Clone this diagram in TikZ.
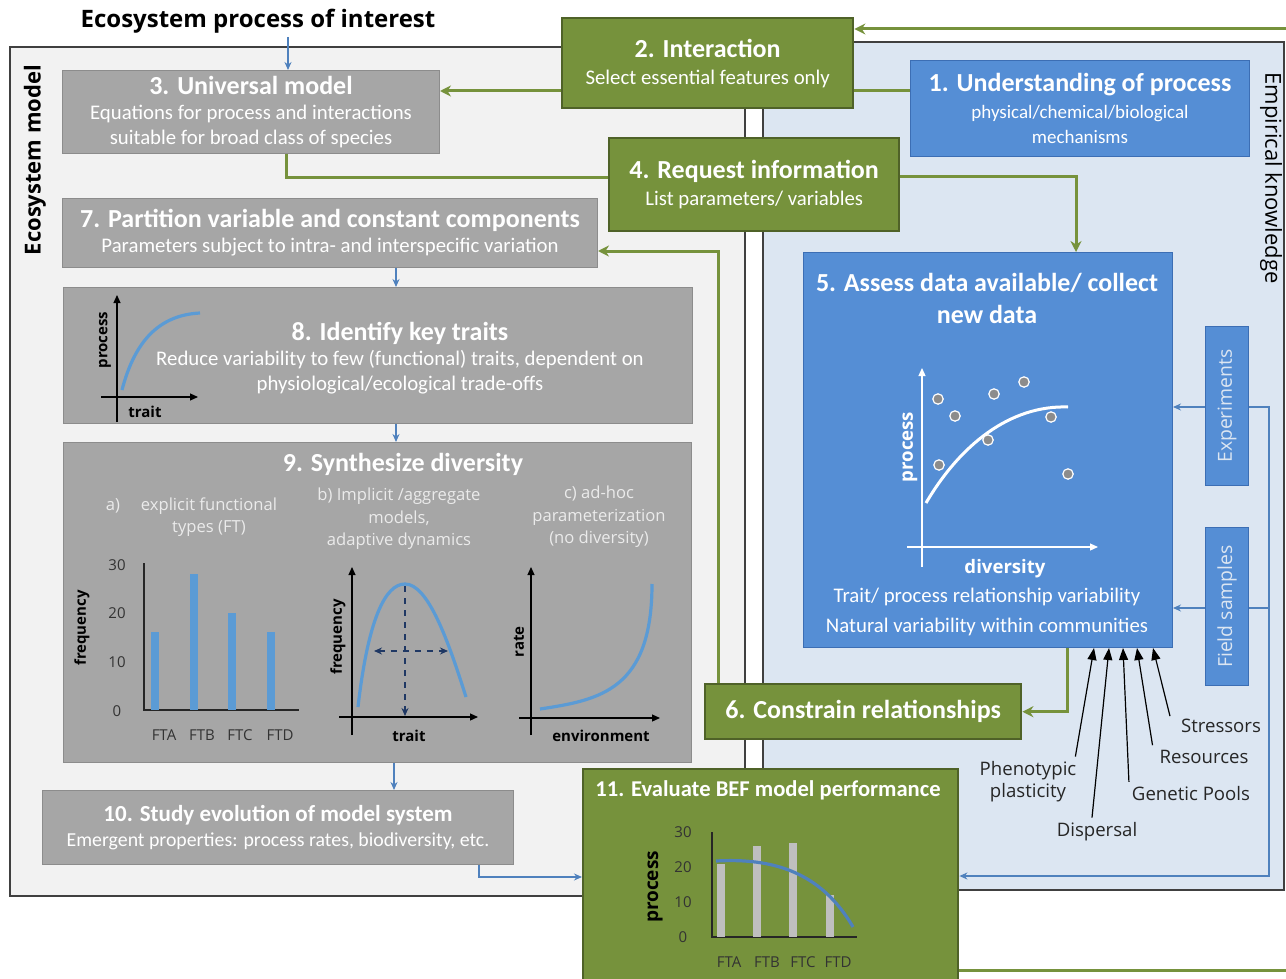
\documentclass[tikz,border=0pt]{standalone}
\usepackage{fontspec}
\setmainfont{Carlito}
\newfontfamily\labelfont{Open Sans}
\usepackage{tikz}
\usetikzlibrary{positioning, calc, arrows.meta}
\usepackage{xcolor}

\definecolor{stepgreen}{HTML}{76923C}
\definecolor{stepgreenline}{HTML}{4F6228}
\definecolor{stepblue}{HTML}{558ED5}
\definecolor{stepblueline}{HTML}{3C6EB4}
\definecolor{stepgrey}{HTML}{A6A6A6}
\definecolor{stepgreyline}{HTML}{8C8C8C}
\definecolor{modelpane}{HTML}{F2F2F2}
\definecolor{datapane}{HTML}{DCE6F2}
\definecolor{linkblue}{HTML}{4F81BD}
\definecolor{curveblue}{HTML}{5B9BD5}
\definecolor{bargrey}{HTML}{BFBFBF}
\definecolor{dotgrey}{HTML}{8C8C8C}
\definecolor{navy}{HTML}{1F3864}
\newcommand{\StepHead}[1]{{\fontsize{13}{15.5}\selectfont\bfseries #1}}
\newcommand{\StepText}{\fontsize{10.4}{12.5}\selectfont}

\begin{document}
\begin{tikzpicture}[x=0.5pt, y=-0.5pt,
    boxsize/.style 2 args={minimum width={#1*0.5pt}, minimum height={#2*0.5pt}, anchor=north west},
    greenbox/.style={draw=stepgreenline, line width=1.2pt, fill=stepgreen, text=white, inner sep=0pt, align=center, font=\StepText},
    bluebox/.style={draw=stepblueline, line width=0.5pt, fill=stepblue, text=white, inner sep=0pt, align=center, font=\StepText},
    greybox/.style={draw=stepgreyline, line width=0.5pt, fill=stepgrey, text=white, inner sep=0pt, align=center, font=\StepText},
    pane/.style={draw=black!75, line width=0.8pt},
    greenlink/.style={draw=stepgreen, line width=1.5pt},
    greenarrow/.style={greenlink, -{Stealth[length=5.5pt, width=5.5pt]}},
    bluelink/.style={draw=linkblue, line width=0.6pt},
    bluearrow/.style={bluelink, -{Stealth[length=4pt, width=3.5pt]}},
    axis/.style={line width=0.6pt, -{Triangle[length=4pt, width=3.5pt]}},
    factor/.style={font=\labelfont\fontsize{9.3}{11}\selectfont, align=center, text=black!85},
    factorarrow/.style={line width=0.6pt, -{Triangle[length=6pt, width=4.5pt]}},
    chartlabel/.style={font=\labelfont\bfseries\fontsize{7.5}{9}\selectfont, inner sep=1pt},
    ticklabel/.style={font=\labelfont\fontsize{7.5}{9}\selectfont, text=black!80, inner sep=1pt},
    pictext/.style={font=\labelfont\fontsize{8.3}{11.2}\selectfont, text=white!92!black, align=center},
    curve/.style={draw=curveblue, line width=1.6pt},
]
\useasboundingbox (0,0) rectangle (1286,979);
\clip (0,0) rectangle (1286,979);

% Panels
\draw[pane, fill=modelpane] (10,47) rectangle (745,896);
\draw[pane, fill=datapane] (763,42) rectangle (1284,890);
\node[rotate=90, font=\labelfont\bfseries\fontsize{11}{13}\selectfont] (modellabel) at (35,160) {Ecosystem model};
\node[rotate=-90, font=\labelfont\fontsize{11}{13}\selectfont] (empirlabel) at (1271,178) {Empirical knowledge};
\node[font=\labelfont\bfseries\fontsize{12}{14}\selectfont] (interest) at (258,21) {Ecosystem process of interest};

% Steps
\node[bluebox, boxsize={339}{96}] (understanding) at (910,60) {\StepHead{1. Understanding of process}\\[1pt]\fontsize{9.5}{11.5}\selectfont physical/chemical/biological\\\fontsize{9.5}{11.5}\selectfont mechanisms};
\node[greenbox, boxsize={291}{90}] (interaction) at (561,17) {\StepHead{2. Interaction}\\[1pt]Select essential features only};
\node[greybox, boxsize={377}{83}] (universal) at (62,70) {\StepHead{3. Universal model}\\Equations for process and interactions\\suitable for broad class of species};
\node[greenbox, boxsize={290}{93}] (request) at (608,137) {\StepHead{4. Request information}\\[1pt]List parameters/ variables};
\node[bluebox, boxsize={369}{395}] (assess) at (803,252) {};
\node[greenbox, boxsize={316}{55}] (constrain) at (704,683) {\StepHead{6. Constrain relationships}};
\node[greybox, boxsize={535}{69}] (partition) at (62,198) {\StepHead{7. Partition variable and constant components}\\Parameters subject to intra- and interspecific variation};
\node[greybox, boxsize={629}{136}] (traits) at (63,287) {};
\node[greybox, boxsize={628}{320}] (synth) at (63,442) {};
\node[greybox, boxsize={471}{74}] (evolution) at (42,790) {{\fontsize{11.5}{14}\selectfont\bfseries 10. Study evolution of model system}\\\fontsize{9.9}{12}\selectfont Emergent properties: process rates, biodiversity, etc.};
\node[greenbox, boxsize={375}{230}] (evaluate) at (582,768) {};
\node[bluebox, boxsize={43}{159}, label={[rotate=90, text=datapane, font=\labelfont\fontsize{9.7}{11}\selectfont]center:Experiments}] (experiments) at (1205,326) {};
\node[bluebox, boxsize={43}{158}, label={[rotate=90, text=datapane, font=\labelfont\fontsize{9.7}{11}\selectfont]center:Field samples}] (fieldsamples) at (1205,527) {};

% Step 5: data
\node[text=white, align=center, font=\fontsize{13}{16}\selectfont\bfseries] (assesshead) at (987,298) {5. Assess data available/ collect\\new data};
\draw[axis, white] (907,547) -- (1098,547);
\draw[axis, white] (922,567) -- (922,368);
\draw[white, line width=1.5pt] (926,503) .. controls (960,445) and (1010,405) .. (1068,407);
\foreach \px/\py [count=\i] in {938/399, 955/416, 994/394, 1024/382, 988/440, 939/465, 1051/417, 1068/474}
    \filldraw[fill=dotgrey, draw=white, line width=0.6pt] (\px,\py) circle[radius=2.6pt];
\node[chartlabel, text=white, rotate=90, font=\labelfont\bfseries\fontsize{9.3}{11}\selectfont] (dataproc) at (910,447) {process};
\node[chartlabel, text=white, font=\labelfont\bfseries\fontsize{9.3}{11}\selectfont] (datadiv) at (1005,569) {diversity};
\node[text=white, align=center, font=\fontsize{10.4}{15}\selectfont] (assesstext) at (987,612) {Trait/ process relationship variability\\Natural variability within communities};

% Step 8: traits
\node[text=white, align=center, font=\StepText] (traitstext) at (400,358) {\StepHead{8. Identify key traits}\\Reduce variability to few (functional) traits, dependent on\\physiological/ecological trade-offs};
\draw[axis] (101,397) -- (198,397);
\draw[axis] (117,422) -- (117,295);
\draw[curve] (122,390) .. controls (135,340) and (160,315) .. (200,313);
\node[chartlabel, rotate=90] (traitproc) at (105,340) {process};
\node[chartlabel] (traittrait) at (145,412) {trait};

% Step 9: diversity
\node[text=white] (synthhead) at (403,464) {\StepHead{9. Synthesize diversity}};
\node[pictext] (tagA) at (113,506) {a)};
\node[pictext] (typeA) at (209,517) {explicit functional\\types (FT)};
\node[pictext] (typeB) at (399,519) {b) Implicit /aggregate\\models,\\adaptive dynamics};
\node[pictext] (typeC) at (599,517) {c) ad-hoc\\parameterization\\(no diversity)};
% a) bars
\draw[black!85, line width=0.6pt] (144,563) |- (299,710);
\foreach \bx/\bv in {155/16, 194/28, 232/20, 271/16}
    \fill[curveblue] (\bx-4,710) rectangle ({\bx+4},{710-4.87*\bv});
\foreach \tv in {0,10,20,30}
    \node[ticklabel] (freqtick\tv) at (117,{711-4.87*\tv}) {\tv};
\foreach \lx/\lt in {164/FTA, 202/FTB, 240/FTC, 280/FTD}
    \node[ticklabel] (freqft\lt) at (\lx,735) {\lt};
\node[chartlabel, rotate=90] (freqA) at (82,628) {frequency};
% b) trait distribution
\draw[axis] (339,717) -- (478,717);
\draw[axis] (352,735) -- (352,567);
\draw[curve] (358,707) .. controls (368,620) and (385,584) .. (405,584) .. controls (428,584) and (448,640) .. (466,697);
\draw[navy, dashed, line width=0.6pt, -{Stealth[length=4pt, width=3.5pt]}] (405,586) -- (405,716);
\draw[navy, dashed, line width=0.6pt, {Stealth[length=4pt, width=3.5pt]}-{Stealth[length=4pt, width=3.5pt]}] (374,651) -- (448,651);
\node[chartlabel, rotate=90] (freqB) at (338,637) {frequency};
\node[chartlabel] (traitB) at (409,736) {trait};
% c) rate
\draw[axis] (519,718) -- (660,718);
\draw[axis] (531,735) -- (531,567);
\draw[curve] (540,709) .. controls (600,700) and (652,690) .. (652,584);
\node[chartlabel, rotate=90] (rateC) at (519,642) {rate};
\node[chartlabel] (envC) at (601,736) {environment};

% Step 11: evaluation
\node[text=white, font=\fontsize{11.3}{13}\selectfont\bfseries] (evalhead) at (768,790) {11. Evaluate BEF model performance};
\draw[black!85, line width=0.6pt] (712,832) |- (857,937);
\foreach \bx/\bv in {721/21, 757/26, 793/27, 830/12}
    \fill[bargrey] (\bx-4,937) rectangle ({\bx+4},{937-3.5*\bv});
\draw[draw=linkblue, line width=1.6pt] (716,861) .. controls (770,858) and (820,870) .. (853,927);
\foreach \tv in {0,10,20,30}
    \node[ticklabel] (evaltick\tv) at (683,{937-3.5*\tv}) {\tv};
\foreach \lx/\lt in {729/FTA, 767/FTB, 803/FTC, 838/FTD}
    \node[ticklabel] (evalft\lt) at (\lx,962) {\lt};
\node[chartlabel, rotate=90, font=\labelfont\bfseries\fontsize{9.5}{11}\selectfont] (evalproc) at (655,887) {process};

% Influences on the data
\node[factor] (plasticity) at (1028,782) {Phenotypic\\plasticity};
\node[factor] (dispersal) at (1097,832) {Dispersal};
\node[factor] (pools) at (1191,794) {Genetic Pools};
\node[factor] (resources) at (1204,757) {Resources};
\node[factor] (stressors) at (1221,726) {Stressors};
\draw[factorarrow] ([xshift=-4pt, yshift=-1pt]plasticity.north east) -- (assess.south -| 1094,0);
\draw[factorarrow] ([yshift=-1pt]dispersal.north -| 1092,0) -- (assess.south -| 1109,0);
\draw[factorarrow] ([xshift=2pt, yshift=-1pt]pools.north west) -- (assess.south -| 1123,0);
\draw[factorarrow] ([yshift=-1pt]resources.north west) -- (assess.south -| 1137,0);
\draw[factorarrow] ([xshift=-2pt, yshift=-2pt]stressors.north west) -- (assess.south -| 1153,0);

% Green flow
\coordinate (loopin) at (1286,29);
\coordinate (loopout) at (1286,970);
\draw[greenarrow] (loopin) -- (interaction.east |- loopin);
\draw[greenlink] (understanding.west |- 0,91) -- (interaction.east |- 0,91);
\draw[greenarrow] (interaction.west |- 0,91) -- (universal.east |- 0,91);
\draw[greenlink] (universal.south -| 286,0) |- (request.west |- 0,178);
\draw[greenarrow] (request.east |- 0,177) -| (assess.north -| 1076,0);
\draw[greenarrow] (assess.south -| 1067,0) |- (constrain.east);
\draw[greenarrow] (constrain.north -| 718,0) |- (partition.east |- 0,251);
\draw[greenlink] (evaluate.east |- loopout) -- (loopout);

% Blue flow
\draw[bluearrow] (288,37) -- (universal.north -| 288,0);
\draw[bluearrow] (partition.south -| 396,0) -- (traits.north -| 396,0);
\draw[bluearrow] (traits.south -| 396,0) -- (synth.north -| 396,0);
\draw[bluearrow] (synth.south -| 394,0) -- (evolution.north -| 394,0);
\draw[bluearrow] (evolution.south -| 479,0) |- (evaluate.west |- 0,877);
\draw[bluearrow] (experiments.west |- 0,407) -- (assess.east |- 0,407);
\draw[bluearrow] (fieldsamples.west |- 0,608) -- (assess.east |- 0,608);
\draw[bluearrow] (experiments.east |- 0,407) -- ++(20,0) |- (evaluate.east |- 0,876);
\draw[bluelink] (fieldsamples.east |- 0,608) -- ++(20,0);
\end{tikzpicture}
\end{document}
